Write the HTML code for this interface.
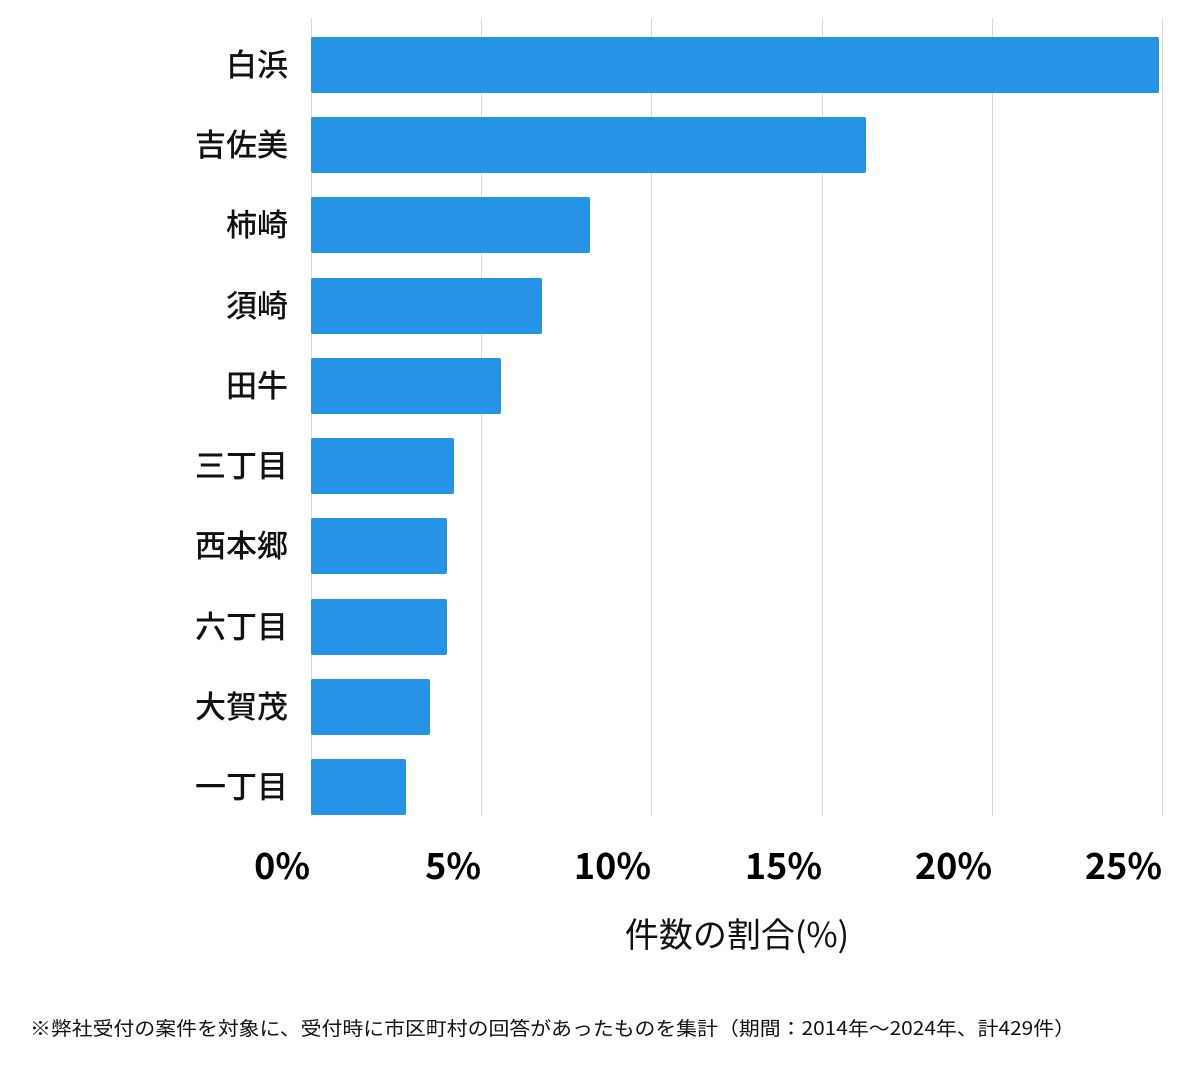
<!DOCTYPE html>
<html><head><meta charset="utf-8"><style>
body{margin:0;background:#fff;width:1200px;height:1069px;overflow:hidden;}
</style></head><body>
<svg width="1200" height="1069" xmlns="http://www.w3.org/2000/svg" style="font-family:'Noto Sans CJK JP',sans-serif">
<g stroke="#d9d9d9" stroke-width="1">
<line x1="311.5" y1="18" x2="311.5" y2="816"/><line x1="481.5" y1="18" x2="481.5" y2="816"/><line x1="651.5" y1="18" x2="651.5" y2="816"/><line x1="822.5" y1="18" x2="822.5" y2="816"/><line x1="992.5" y1="18" x2="992.5" y2="816"/><line x1="1162.5" y1="18" x2="1162.5" y2="816"/>
</g>
<g fill="#2793e6">
<rect x="311" y="37" width="848" height="56" rx="2"/>
<rect x="311" y="117" width="555" height="56" rx="2"/>
<rect x="311" y="197" width="279" height="56" rx="2"/>
<rect x="311" y="278" width="231" height="56" rx="2"/>
<rect x="311" y="358" width="190" height="56" rx="2"/>
<rect x="311" y="438" width="143" height="56" rx="2"/>
<rect x="311" y="518" width="136" height="56" rx="2"/>
<rect x="311" y="599" width="136" height="56" rx="2"/>
<rect x="311" y="679" width="119" height="56" rx="2"/>
<rect x="311" y="759" width="95" height="56" rx="2"/>
</g>
<g font-size="31" font-weight="500" text-anchor="end" fill="#111">
<text x="288" y="76">白浜</text>
<text x="288" y="156">吉佐美</text>
<text x="288" y="236">柿崎</text>
<text x="288" y="317">須崎</text>
<text x="288" y="397">田牛</text>
<text x="288" y="477">三丁目</text>
<text x="288" y="557">西本郷</text>
<text x="288" y="638">六丁目</text>
<text x="288" y="718">大賀茂</text>
<text x="288" y="798">一丁目</text>
</g>
<g font-size="36" font-weight="bold" text-anchor="end" fill="#000">
<text x="310" y="879">0%</text>
<text x="481" y="879">5%</text>
<text x="651" y="879">10%</text>
<text x="822" y="879">15%</text>
<text x="992" y="879">20%</text>
<text x="1162" y="879">25%</text>
</g>
<text x="737" y="947" font-size="34" text-anchor="middle" fill="#111">件数の割合(%)</text>
<text x="30" y="1035" font-size="19" fill="#111" textLength="1045" lengthAdjust="spacingAndGlyphs">※弊社受付の案件を対象に、受付時に市区町村の回答があったものを集計（期間：2014年～2024年、計429件）</text>
</svg>
</body></html>
